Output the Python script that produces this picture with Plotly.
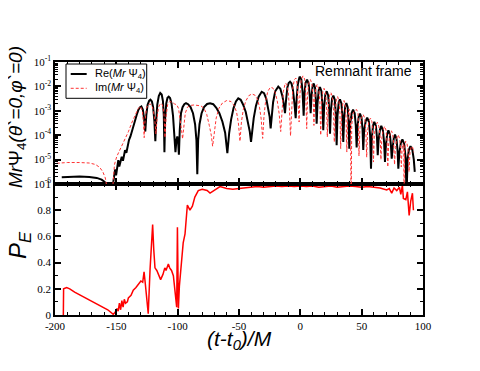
import plotly.graph_objects as go

# ---- data (t, log10|value|) ----
re_pts = [
    (-194.5, -5.72), (-188, -5.70), (-180, -5.69), (-172, -5.71), (-166, -5.75), (-162, -5.82),
    (-159.5, -5.92), (-157.5, -6.05), (-156, -6.4), (-153.8, -6.4), (-152.8, -5.95), (-151.8, -5.55),
    (-151.0, -5.40), (-150.2, -5.65), (-149.2, -5.25), (-148.4, -5.02), (-147.6, -5.28), (-146.6, -5.05),
    (-145.6, -4.88), (-144.6, -5.05), (-143.8, -4.75), (-142.9, -4.61), (-141.8, -4.72), (-140.8, -4.40),
    (-139.7, -4.20), (-138.5, -4.05), (-137.5, -3.86), (-136, -3.60), (-134.8, -3.38), (-133.3, -3.15),
    (-132.1, -2.97), (-130.8, -2.86), (-129.6, -2.82), (-128.4, -2.95), (-127.4, -3.3), (-126.4, -3.85),
    (-125.6, -3.2), (-124.5, -2.75), (-123.2, -2.58), (-122.2, -2.54), (-121.0, -2.62), (-120.0, -2.85),
    (-119.0, -3.4), (-118.2, -4.25), (-117.5, -3.4), (-116.6, -2.75), (-115.4, -2.4), (-114.2, -2.27),
    (-113, -2.33), (-112, -2.6), (-111.3, -3.2), (-110.8, -4.7), (-110.2, -3.3), (-109.3, -2.7),
    (-108.3, -2.47), (-107.3, -2.42), (-106.2, -2.48), (-105, -2.7), (-103.8, -3.2), (-102.8, -3.9),
    (-101.8, -4.7), (-101.0, -4.2), (-100.3, -4.05), (-99.6, -4.3), (-99.0, -4.8), (-98.3, -3.8),
    (-97.3, -3.1), (-96.0, -2.85), (-94.6, -2.73), (-93.2, -2.69), (-91.5, -2.73), (-89.5, -2.85),
    (-87.5, -3.1), (-85.8, -3.55), (-84.7, -4.2), (-84.0, -5.6), (-83.3, -4.2), (-82.2, -3.55),
    (-80.5, -3.1), (-78.5, -2.85), (-76.0, -2.72), (-73.6, -2.69), (-71, -2.73), (-68.5, -2.88),
    (-66, -3.1), (-63.5, -3.45), (-61.3, -3.9), (-59.5, -4.74), (-58.0, -3.9), (-56.4, -3.35),
    (-54.5, -2.9), (-52.5, -2.62), (-50.6, -2.49), (-48.6, -2.55), (-46.6, -2.75), (-44.5, -3.05),
    (-42.5, -3.5), (-41.2, -3.85), (-40.2, -4.27), (-39.2, -3.8), (-38.0, -3.3), (-36.2, -2.8),
    (-34.0, -2.42), (-31.5, -2.22), (-29.6, -2.28), (-27.8, -2.5), (-26.2, -2.85), (-25.0, -3.25),
    (-24.2, -3.72), (-23.4, -3.2), (-22.2, -2.65), (-20.5, -2.2), (-18.0, -2.01), (-16.3, -2.1),
    (-14.6, -2.4), (-13.4, -2.75), (-12.5, -3.10), (-11.7, -2.6), (-10.6, -2.05), (-9.5, -1.86),
    (-8.4, -1.81), (-7.2, -1.88), (-6.0, -2.15), (-4.8, -2.7), (-3.8, -3.30), (-3.0, -2.5),
    (-2.0, -1.9), (-0.6, -1.60), (0.8, -1.70), (1.8, -2.2), (2.7, -3.20), (3.4, -2.3),
    (4.3, -1.85), (5.5, -1.72), (6.8, -1.9), (7.7, -2.4), (8.4, -3.10), (9.1, -2.4),
    (10.0, -2.0), (10.9, -1.88), (12.0, -2.05), (12.7, -2.6), (13.3, -3.53), (14.0, -2.7),
    (15.0, -2.15), (16.0, -2.03), (17.2, -2.2), (18.0, -2.75), (18.7, -3.80), (19.4, -2.85),
    (20.4, -2.32), (21.5, -2.20), (22.7, -2.37), (23.5, -2.9), (24.2, -3.94), (24.9, -3.0),
    (25.9, -2.5), (26.9, -2.38), (28.1, -2.55), (28.9, -3.1), (29.6, -4.41), (30.3, -3.2),
    (31.3, -2.65), (32.3, -2.53), (33.5, -2.7), (34.3, -3.2), (35.0, -4.28), (35.7, -3.3),
    (36.6, -2.82), (37.5, -2.68), (38.6, -2.85), (39.3, -3.4), (39.9, -4.55), (40.7, -3.5),
    (41.9, -3.08), (43.0, -2.95), (44.3, -3.1), (45.2, -3.6), (45.9, -4.50), (46.6, -3.65),
    (47.6, -3.25), (48.6, -3.12), (49.9, -3.28), (50.7, -3.75), (51.3, -4.6), (52.0, -3.8),
    (53.3, -3.42), (54.5, -3.28), (55.9, -3.45), (56.9, -4.0), (57.6, -5.37), (58.3, -4.1),
    (59.3, -3.6), (60.3, -3.45), (61.6, -3.62), (62.5, -4.1), (63.1, -4.82), (63.8, -4.2),
    (64.9, -3.78), (66.0, -3.62), (67.3, -3.8), (68.3, -4.3), (69.0, -5.10), (69.8, -4.4),
    (70.8, -3.95), (71.8, -3.80), (73.0, -3.97), (73.9, -4.45), (74.5, -4.96), (75.2, -4.55),
    (76.2, -4.12), (77.2, -3.97), (78.4, -4.15), (79.3, -4.65), (79.9, -5.37), (80.7, -4.75),
    (81.9, -4.32), (83.2, -4.17), (84.6, -4.35), (85.8, -4.9), (86.6, -6.5), (87.4, -5.0),
    (88.5, -4.6), (89.8, -4.45), (91.3, -4.6), (92.5, -5.0), (93.3, -5.5),
]

im_pts = [
    (-198.6, -5.15), (-190, -5.12), (-180, -5.12), (-172, -5.14), (-167, -5.2), (-163.5, -5.32),
    (-161, -5.5), (-159, -5.75), (-157.8, -6.1), (-156.8, -6.6), (-153.6, -6.6), (-152.6, -5.7),
    (-151.5, -5.2), (-149.7, -4.88), (-147.5, -4.65), (-145.6, -4.47), (-143, -4.15), (-140.2, -3.86),
    (-137.5, -3.5), (-134.8, -3.17), (-132.1, -2.90), (-130.2, -2.82), (-128.8, -3.0), (-127.9, -3.5),
    (-127.3, -4.1), (-126.6, -3.4), (-125.5, -2.9), (-124.2, -2.75), (-122.5, -2.72), (-121, -2.78),
    (-119.8, -3.0), (-118.6, -3.4), (-117.7, -3.95), (-116.8, -3.3), (-115.6, -2.85), (-114, -2.7),
    (-112.5, -2.75), (-111.2, -3.1), (-110.3, -4.1), (-109.4, -3.2), (-108.2, -2.75), (-106.5, -2.62),
    (-104.5, -2.65), (-102.5, -2.72), (-100.8, -2.75), (-99.3, -2.9), (-98, -3.3), (-96.8, -3.8),
    (-96.0, -4.15), (-95.1, -3.6), (-93.8, -3.1), (-92.0, -2.85), (-89.5, -2.78), (-86.5, -2.76),
    (-84, -2.78), (-81, -2.8), (-78.5, -2.9), (-76.3, -3.15), (-74.2, -3.6), (-72.6, -4.0),
    (-71.5, -4.45), (-70.3, -3.85), (-68.6, -3.3), (-66.4, -2.9), (-63.5, -2.68), (-60, -2.58),
    (-56.5, -2.62), (-54, -2.78), (-52, -3.05), (-50.5, -3.5), (-49.2, -4.25), (-48.0, -3.45),
    (-46.5, -2.95), (-44.5, -2.6), (-42, -2.38), (-39.5, -2.31), (-37, -2.36), (-35, -2.52),
    (-33.3, -2.85), (-32, -3.3), (-30.7, -4.13), (-29.6, -3.2), (-28.3, -2.6), (-26.5, -2.2),
    (-24.5, -2.04), (-22.5, -2.06), (-20.5, -2.25), (-18.8, -2.6), (-17.3, -3.1), (-16.0, -3.85),
    (-15.0, -2.9), (-13.8, -2.2), (-12.3, -1.87), (-10.9, -1.92), (-9.8, -2.25), (-8.9, -2.9),
    (-8.0, -4.03), (-7.2, -2.8), (-6.2, -2.1), (-4.9, -1.72), (-3.6, -1.66), (-2.6, -1.9),
    (-1.8, -2.5), (-1.0, -3.46), (-0.3, -2.3), (0.8, -1.7), (2.2, -1.57), (3.5, -1.7),
    (4.4, -2.2), (5.2, -3.73), (5.9, -2.3), (7.0, -1.85), (8.2, -1.72), (9.4, -1.88),
    (10.4, -2.4), (11.1, -3.60), (11.8, -2.5), (12.7, -2.05), (13.7, -1.92), (14.9, -2.08),
    (15.9, -2.6), (16.6, -4.0), (17.3, -2.7), (18.3, -2.22), (19.3, -2.08), (20.5, -2.25),
    (21.4, -2.75), (22.0, -4.07), (22.7, -2.85), (23.8, -2.38), (24.9, -2.25), (26.1, -2.42),
    (27.0, -2.9), (27.7, -4.28), (28.4, -3.0), (29.4, -2.55), (30.4, -2.42), (31.5, -2.6),
    (32.3, -3.1), (32.9, -4.55), (33.6, -3.2), (34.6, -2.72), (35.6, -2.58), (36.6, -2.75),
    (37.3, -3.3), (37.9, -4.69), (38.6, -3.4), (39.6, -2.92), (40.3, -3.0), (40.9, -3.5),
    (41.4, -7.0), (41.9, -3.6), (43.0, -3.1), (44.5, -2.98), (45.9, -2.95), (47.0, -3.1),
    (47.4, -3.6), (47.8, -4.85), (48.6, -3.7), (49.8, -3.28), (51.2, -3.15), (52.5, -3.3),
    (53.4, -3.8), (54.1, -4.9), (54.8, -3.85), (55.9, -3.42), (57.2, -3.3), (58.4, -3.45),
    (59.0, -3.95), (59.6, -5.1), (60.3, -4.0), (61.5, -3.6), (62.8, -3.47), (64.0, -3.63),
    (65.1, -4.1), (65.7, -5.0), (66.4, -4.15), (67.5, -3.78), (68.7, -3.64), (69.9, -3.8),
    (70.7, -4.3), (71.3, -5.3), (72.0, -4.35), (73.1, -3.95), (74.3, -3.82), (75.4, -3.98),
    (76.2, -4.45), (76.8, -5.2), (77.5, -4.5), (78.6, -4.12), (79.8, -3.99), (81.0, -4.15),
    (81.8, -4.6), (82.3, -5.3), (82.9, -4.6), (83.6, -4.35), (84.3, -4.5), (84.6, -7.0),
    (84.9, -4.6), (85.8, -4.25), (86.8, -4.3), (87.8, -4.6), (88.6, -5.5), (89.4, -4.7),
    (90.5, -4.45), (91.6, -4.5), (92.4, -4.7),
]

pe_t = [-193.2, -193.0, -190.5, -188, -184, -179.6, -172, -163.3, -157, -152.5, -151, -149.5,
        -148.5, -147.5, -146.5, -145.5, -144.5, -143.5, -142.5, -141, -140.2, -138, -136.2, -134,
        -132, -130, -128.5, -127.4, -126.5, -125.2, -124, -122.5, -120.4, -119.5, -118.5, -117,
        -115.5, -113.9, -112, -110.5, -109.5, -108.5, -107.6, -106.5, -105, -103.5, -102.2, -100.8,
        -100.2, -99.4, -98.6, -96.7, -95.5, -94, -93, -92.1, -90, -88, -86, -83.2, -80, -76, -73.6,
        -70, -65.5, -60, -55, -50, -45, -40, -35, -30, -25, -20, -15, -10, -5, 0, 5, 10, 15, 20, 25,
        30, 35, 40, 45, 50, 55, 60, 65, 70.4, 72.5, 74.5, 76.4, 78.6, 80.8, 81.9, 83.2, 84.0, 86.0,
        87.3, 88.7, 90.0, 91.4, 92.2]
pe_v = [0.0, 0.20, 0.21, 0.20, 0.175, 0.153, 0.115, 0.076, 0.04, 0.005, 0.02, 0.05,
        0.03, 0.09, 0.04, 0.11, 0.06, 0.12, 0.09, 0.10, 0.13, 0.15, 0.19, 0.21,
        0.24, 0.26, 0.25, 0.33, 0.25, 0.12, 0.01, 0.35, 0.69, 0.50, 0.36, 0.34,
        0.30, 0.27, 0.31, 0.36, 0.34, 0.37, 0.39, 0.36, 0.34, 0.30, 0.19, 0.06,
        0.67, 0.05, 0.22, 0.47, 0.55, 0.62, 0.75, 0.84, 0.80, 0.83, 0.90, 0.95, 0.96, 0.95, 0.93,
        0.95, 0.98, 0.965, 0.96, 0.965, 0.97, 0.975, 0.98, 0.975, 0.98, 0.985, 0.98, 0.985, 0.98,
        0.985, 0.98, 0.985, 0.975, 0.98, 0.985, 0.975, 0.98, 0.985, 0.98, 0.975, 0.98, 0.975, 0.97,
        0.955, 0.965, 0.93, 0.97, 0.95, 0.975, 0.92, 0.99, 0.89, 0.88, 0.94, 0.76, 0.87, 0.93, 0.80]

x_ticks = [-200, -150, -100, -50, 0, 50, 100]
pe_ticks = [0, 0.2, 0.4, 0.6, 0.8, 1]
pe_labels = ["0", "0.2", "0.4", "0.6", "0.8", "1"]
psi_exps = [-6, -5, -4, -3, -2, -1]
legend_labels = ["Re(<i>Mr</i> Ψ<sub>4</sub>)", "Im(<i>Mr</i> Ψ<sub>4</sub>)"]

re_t = [p[0] for p in re_pts]
re_v = [10 ** p[1] for p in re_pts]
im_t = [p[0] for p in im_pts]
im_v = [10 ** p[1] for p in im_pts]

RE_LINE = dict(color="black", width=2)
IM_LINE = dict(color="#ff3333", width=1, dash="3px,2px")

fig = go.Figure()
fig.add_trace(go.Scatter(x=re_t, y=re_v, xaxis="x2", yaxis="y2", mode="lines",
                         line=RE_LINE, name=legend_labels[0], showlegend=False))
fig.add_trace(go.Scatter(x=im_t, y=im_v, xaxis="x2", yaxis="y2", mode="lines",
                         line=IM_LINE, name=legend_labels[1], showlegend=False))
fig.add_trace(go.Scatter(x=pe_t, y=pe_v, xaxis="x", yaxis="y", mode="lines",
                         line=dict(color="#ff0000", width=1.5), showlegend=False))

split = 131 / 253
common = dict(showline=True, linecolor="black", linewidth=1.5, mirror="ticks",
              ticks="inside", ticklen=6, tickwidth=1.5, tickcolor="black",
              showgrid=False, zeroline=False)
tickfont = dict(family="Liberation Serif", size=11, color="black")
minor_x = dict(dtick=10, tick0=0, ticks="inside", ticklen=3, tickwidth=1, tickcolor="black", showgrid=False)

log_minor = [m * 10.0 ** k for k in psi_exps[:-1] for m in range(2, 10)]

# hand-built legend box (paper coordinates of the plot area)
shapes = [
    dict(type="rect", xref="paper", yref="paper", x0=0.0299, x1=0.2492, y0=0.8565, y1=0.992,
         line=dict(color="black", width=1), fillcolor="white", layer="above"),
    dict(type="line", xref="paper", yref="paper", x0=0.0427, x1=0.0861, y0=0.9526, y1=0.9526,
         line=RE_LINE, layer="above"),
    dict(type="line", xref="paper", yref="paper", x0=0.0427, x1=0.0861, y0=0.8960, y1=0.8960,
         line=dict(color="#ff3333", width=1, dash="3px,2px"), layer="above"),
]

fig.update_layout(
    width=472, height=363,
    margin=dict(l=47, r=57, t=54, b=56),
    paper_bgcolor="white", plot_bgcolor="white",
    showlegend=False,
    xaxis=dict(domain=[0, 1], anchor="y", range=[-200, 100], tickmode="array",
               tickvals=x_ticks, ticktext=[str(v) for v in x_ticks],
               tickfont=tickfont, minor=minor_x, **common),
    xaxis2=dict(domain=[0, 1], anchor="y2", range=[-200, 100], tickmode="array",
                tickvals=x_ticks, showticklabels=False, minor=minor_x, **common),
    yaxis=dict(domain=[0, split], anchor="x", range=[0, 1], tickmode="array",
               tickvals=pe_ticks, ticktext=pe_labels, tickfont=tickfont,
               minor=dict(dtick=0.1, tick0=0, ticks="inside", ticklen=3, tickwidth=1,
                          tickcolor="black", showgrid=False), **common),
    yaxis2=dict(domain=[split, 1], anchor="x2", type="log", range=[-6, -1], tickmode="array",
                tickvals=[10.0 ** e for e in psi_exps],
                ticktext=["10<sup>%d</sup>" % e for e in psi_exps], tickfont=tickfont,
                minor=dict(tickmode="array", tickvals=log_minor, ticks="inside", ticklen=3,
                           tickwidth=1, tickcolor="black", showgrid=False), **common),
    shapes=shapes,
    annotations=[
        dict(text=legend_labels[0], x=0.1041, y=0.9526, xref="paper", yref="paper",
             xanchor="left", yanchor="middle", showarrow=False,
             font=dict(family="Liberation Sans", size=11, color="black")),
        dict(text=legend_labels[1], x=0.1041, y=0.8960, xref="paper", yref="paper",
             xanchor="left", yanchor="middle", showarrow=False,
             font=dict(family="Liberation Sans", size=11, color="black")),
        dict(text="Remnant frame", x=0.9755, y=0.964, xref="paper", yref="paper",
             xanchor="right", yanchor="middle", showarrow=False,
             font=dict(family="Liberation Sans", size=14, color="black")),
        dict(text="<i>Mr</i>Ψ<sub>4</sub><i>(θ`=0,φ`=0)</i>", x=-0.103, y=0.7826,
             xref="paper", yref="paper", xanchor="center", yanchor="middle",
             textangle=-90, showarrow=False,
             font=dict(family="Liberation Sans", size=19, color="black")),
        dict(text="<i>P<sub>E</sub></i>", x=-0.095, y=0.2767, xref="paper", yref="paper",
             xanchor="center", yanchor="middle", textangle=-90, showarrow=False,
             font=dict(family="Liberation Sans", size=24, color="black")),
        dict(text="<i>(t-t<sub>0</sub>)/M</i>", x=0.5027, y=-0.099, xref="paper", yref="paper",
             xanchor="center", yanchor="middle", showarrow=False,
             font=dict(family="Liberation Sans", size=21, color="black")),
    ],
)

fig.write_html("out.html")
